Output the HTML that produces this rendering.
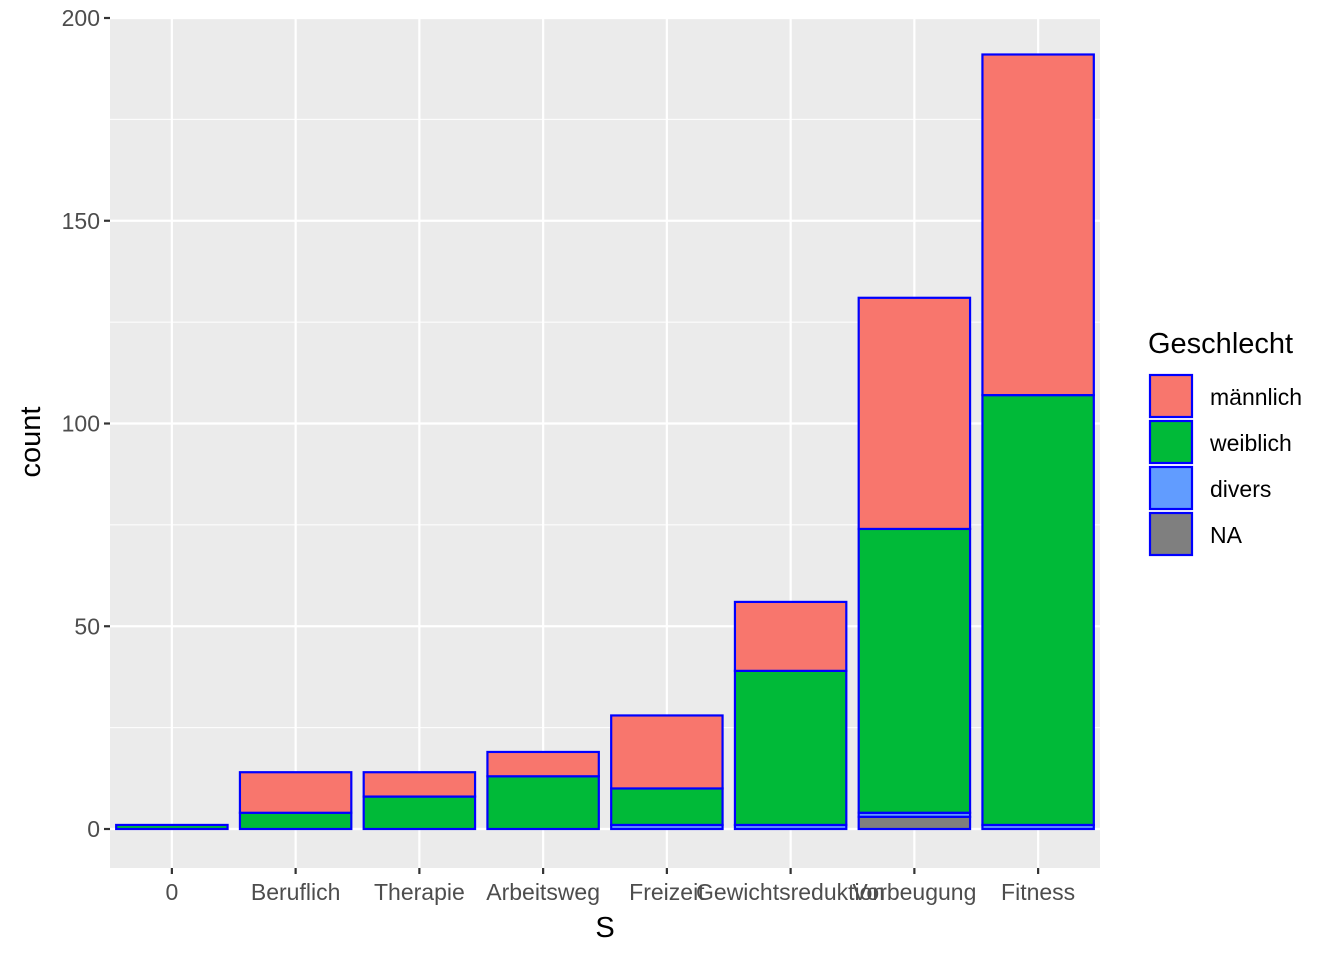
<!DOCTYPE html>
<html><head><meta charset="utf-8"><style>body{margin:0;background:#fff}svg{display:block;font-family:"Liberation Sans",sans-serif}</style></head>
<body>
<svg id="c" width="1344" height="960"></svg>
<script>
const categories=["0","Beruflich","Therapie","Arbeitsweg","Freizeit","Gewichtsreduktion","Vorbeugung","Fitness"];
const groups=["NA","divers","weiblich","männlich"];
const naVals=[0,0,0,0,0,0,3,0];
const diversVals=[0,0,0,0,1,1,1,1];
const weiblichVals=[1,4,8,13,9,38,70,106];
const maennlichVals=[0,10,6,6,18,17,57,84];
const yTicks=[0,50,100,150,200];
const colors={"NA":"#7f7f7f","divers":"#619cff","weiblich":"#00ba38","männlich":"#f8766d"};
const series={"NA":naVals,"divers":diversVals,"weiblich":weiblichVals,"männlich":maennlichVals};
const NS="http://www.w3.org/2000/svg",svg=document.getElementById('c');
const L=110,R=1100,T=18,B=868,y0=829,y200=18;
const y=v=>y0-(y0-y200)*v/200;
const step=(R-L)/categories.length;
const x=i=>L+step*(i+0.5);
const bw=step*0.9;
function el(t,a,p){const e=document.createElementNS(NS,t);for(const k in a)e.setAttribute(k,a[k]);(p||svg).appendChild(e);return e;}
const bg=el('rect',{x:L,y:T,width:R-L,height:B-T,fill:'#ebebeb'});


for(let i=0;i<yTicks.length-1;i++){const m=(yTicks[i]+yTicks[i+1])/2;el('line',{x1:L,x2:R,y1:y(m),y2:y(m),stroke:'#fff','stroke-width':1.1});}
yTicks.forEach(t=>{const g=el('line',{x1:L,x2:R,y1:y(t),y2:y(t),stroke:'#fff','stroke-width':2.2});


el('line',{x1:L-6,x2:L,y1:y(t),y2:y(t),stroke:'#333','stroke-width':2.2});
const tx=el('text',{x:L-10,y:y(t)+8,'text-anchor':'end','font-size':23,fill:'#4d4d4d'});tx.textContent=t;

});
categories.forEach((c,i)=>{el('line',{x1:x(i),x2:x(i),y1:T,y2:B,stroke:'#fff','stroke-width':2.2});
el('line',{x1:x(i),x2:x(i),y1:B,y2:B+6,stroke:'#333','stroke-width':2.2});
const tx=el('text',{x:x(i),y:900,'text-anchor':'middle','font-size':23,fill:'#4d4d4d'});tx.textContent=c;

});
categories.forEach((c,i)=>{let cum=0;groups.forEach(g=>{const v=series[g][i];if(v>0){const r=el('rect',{x:x(i)-bw/2,y:y(cum+v),width:bw,height:y(cum)-y(cum+v),fill:colors[g],stroke:'#0000ff','stroke-width':2.2});

}cum+=v;});});
let t=el('text',{x:605,y:937,'text-anchor':'middle','font-size':29,fill:'#000'});t.textContent='S';


t=el('text',{x:0,y:0,'text-anchor':'middle','font-size':29,fill:'#000',transform:'translate(40,442) rotate(-90)'});t.textContent='count';


t=el('text',{x:1148,y:353,'font-size':29,fill:'#000'});t.textContent='Geschlecht';


["männlich","weiblich","divers","NA"].forEach((g,k)=>{const yy=375+k*46;
const r=el('rect',{x:1150,y:yy,width:42,height:42,fill:colors[g],stroke:'#0000ff','stroke-width':2.2});


const tx=el('text',{x:1210,y:yy+30,'font-size':23,fill:'#000'});tx.textContent=g;

});
</script>
</body></html>
